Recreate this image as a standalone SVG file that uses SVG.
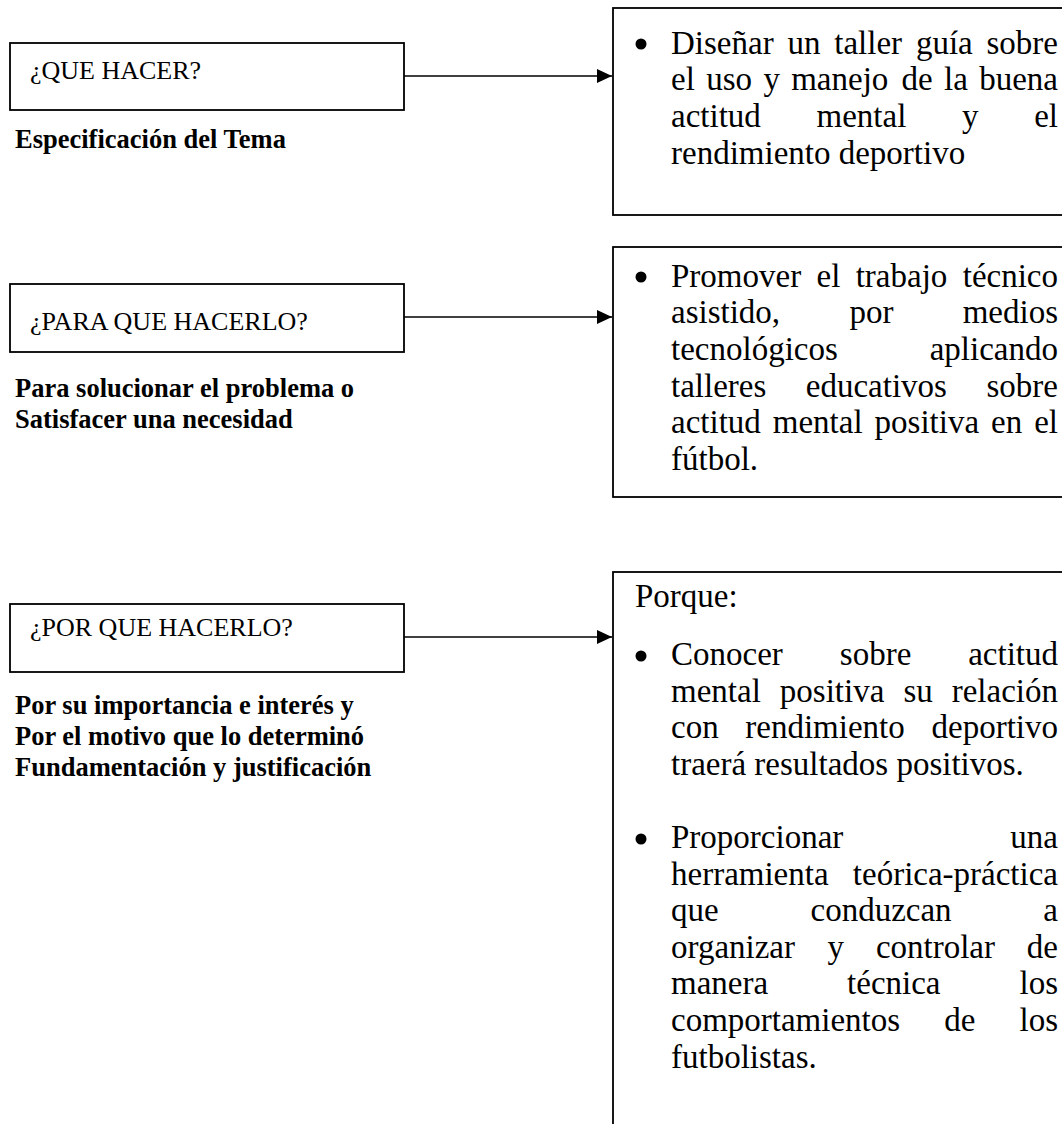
<svg xmlns="http://www.w3.org/2000/svg" width="1062" height="1124" viewBox="0 0 1062 1124">
<defs>
<style>
.box{fill:#fff;stroke:#000;stroke-width:1.8}
.q{font-family:"Liberation Serif","Times New Roman",serif;font-size:26px;fill:#000}
.b{font-family:"Liberation Serif","Times New Roman",serif;font-size:26.5px;font-weight:bold;fill:#000}
.t{font-family:"Liberation Serif","Times New Roman",serif;font-size:33px;fill:#000}
.e{text-anchor:end}
.conn{stroke:#000;stroke-width:1.6;fill:none}
.dot{fill:#000}
</style>
<marker id="ah" markerUnits="userSpaceOnUse" markerWidth="15" markerHeight="14" refX="15" refY="7" orient="auto"><path d="M0,0 L15,7 L0,14 z" fill="#000"/></marker>
</defs>
<rect width="1062" height="1124" fill="#fff"/>

<g id="que-hacer">
<rect class="box" x="10" y="43" width="394" height="67"/>
<text class="q" x="30" y="79">¿QUE HACER?</text>
<text class="b" x="15" y="148">Especificación del Tema</text>
</g>

<g id="para-que">
<rect class="box" x="10" y="284" width="394" height="68"/>
<text class="q" x="30" y="330">¿PARA QUE HACERLO?</text>
<text class="b" x="15" y="397">Para solucionar el problema o</text>
<text class="b" x="15" y="428">Satisfacer una necesidad</text>
</g>

<g id="por-que">
<rect class="box" x="10" y="604" width="394" height="68"/>
<text class="q" x="30" y="636">¿POR QUE HACERLO?</text>
<text class="b" x="15" y="714">Por su importancia e interés y</text>
<text class="b" x="15" y="745">Por el motivo que lo determinó</text>
<text class="b" x="15" y="776">Fundamentación y justificación</text>
</g>

<g id="tema">
<rect class="box" x="613" y="8" width="460" height="207"/>
<circle class="dot" cx="641" cy="44" r="5.5"/>
<text class="t" y="53.5"><tspan x="671">Diseñar</tspan><tspan x="787.4">un</tspan><tspan x="834.3">taller</tspan><tspan x="915.9">guía</tspan><tspan x="1058" class="e">sobre</tspan></text>
<text class="t" y="90.2"><tspan x="671">el</tspan><tspan x="706.2">uso</tspan><tspan x="763.4">y</tspan><tspan x="791.2">manejo</tspan><tspan x="901.5">de</tspan><tspan x="944">la</tspan><tspan x="1058" class="e">buena</tspan></text>
<text class="t" y="126.9"><tspan x="671">actitud</tspan><tspan x="816.5">mental</tspan><tspan x="962">y</tspan><tspan x="1058" class="e">el</tspan></text>
<text class="t" x="671" y="163.6">rendimiento deportivo</text>
</g>

<g id="proposito">
<rect class="box" x="613" y="247" width="460" height="250"/>
<circle class="dot" cx="641" cy="277" r="5.5"/>
<text class="t" y="286.7"><tspan x="671">Promover</tspan><tspan x="816.5">el</tspan><tspan x="855.7">trabajo</tspan><tspan x="1058" class="e">técnico</tspan></text>
<text class="t" y="323.3"><tspan x="671">asistido,</tspan><tspan x="849.4">por</tspan><tspan x="1058" class="e">medios</tspan></text>
<text class="t" y="360"><tspan x="671">tecnológicos</tspan><tspan x="1058" class="e">aplicando</tspan></text>
<text class="t" y="396.7"><tspan x="671">talleres</tspan><tspan x="805.8">educativos</tspan><tspan x="1058" class="e">sobre</tspan></text>
<text class="t" y="433.3"><tspan x="671">actitud</tspan><tspan x="772.8">mental</tspan><tspan x="874.6">positiva</tspan><tspan x="991.1">en</tspan><tspan x="1058" class="e">el</tspan></text>
<text class="t" x="671" y="470">fútbol.</text>
</g>

<g id="justificacion">
<rect class="box" x="613" y="572" width="460" height="600"/>
<text class="t" x="635" y="607">Porque:</text>
<circle class="dot" cx="641" cy="656" r="5.5"/>
<text class="t" y="665"><tspan x="671">Conocer</tspan><tspan x="839.8">sobre</tspan><tspan x="1058" class="e">actitud</tspan></text>
<text class="t" y="701.6"><tspan x="671">mental</tspan><tspan x="779.8">positiva</tspan><tspan x="903.4">su</tspan><tspan x="1058" class="e">relación</tspan></text>
<text class="t" y="738.2"><tspan x="671">con</tspan><tspan x="745.3">rendimiento</tspan><tspan x="1058" class="e">deportivo</tspan></text>
<text class="t" x="671" y="774.8">traerá resultados positivos.</text>
<circle class="dot" cx="641" cy="839" r="5.5"/>
<text class="t" y="848"><tspan x="671">Proporcionar</tspan><tspan x="1058" class="e">una</tspan></text>
<text class="t" y="884.6"><tspan x="671">herramienta</tspan><tspan x="1058" class="e">teórica-práctica</tspan></text>
<text class="t" y="921.2"><tspan x="671">que</tspan><tspan x="810.5">conduzcan</tspan><tspan x="1058" class="e">a</tspan></text>
<text class="t" y="957.8"><tspan x="671">organizar</tspan><tspan x="827.5">y</tspan><tspan x="875.9">controlar</tspan><tspan x="1058" class="e">de</tspan></text>
<text class="t" y="994.4"><tspan x="671">manera</tspan><tspan x="847.1">técnica</tspan><tspan x="1058" class="e">los</tspan></text>
<text class="t" y="1031"><tspan x="671">comportamientos</tspan><tspan x="944.2">de</tspan><tspan x="1058" class="e">los</tspan></text>
<text class="t" x="671" y="1067.6">futbolistas.</text>
</g>

<g id="connectors">
<line class="conn" x1="404" y1="76" x2="612" y2="76" marker-end="url(#ah)"/>
<line class="conn" x1="404" y1="317" x2="612" y2="317" marker-end="url(#ah)"/>
<line class="conn" x1="404" y1="637" x2="612" y2="637" marker-end="url(#ah)"/>
</g>
</svg>
